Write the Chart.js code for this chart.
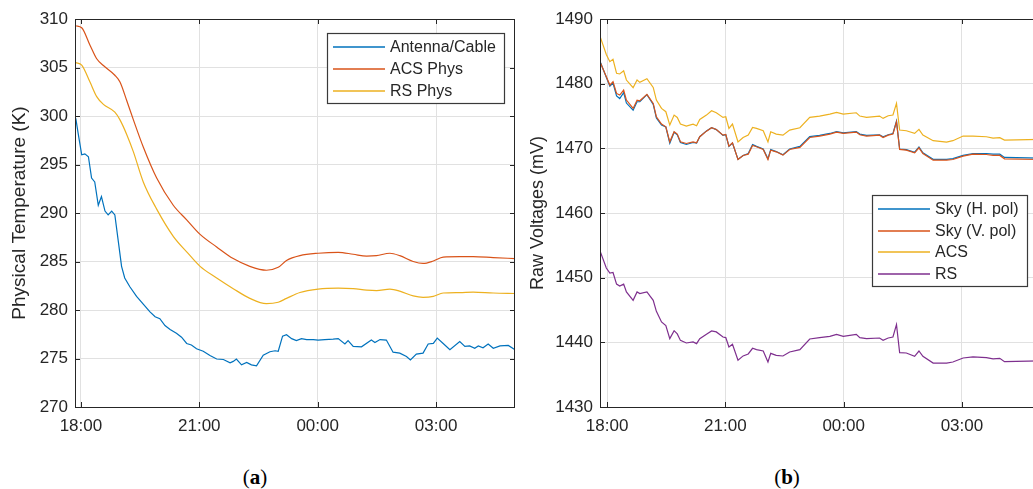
<!DOCTYPE html>
<html>
<head>
<meta charset="utf-8">
<script src="https://cdn.jsdelivr.net/npm/chart.js@4"></script>
<style>
  body { margin: 0; background: #fff; overflow: hidden; width: 1033px; height: 489px; position: relative; }
  canvas { position: absolute; top: 0; }
  #left { left: 0; }
  #right { left: 520px; }
  .tag { position: absolute; top: 464px; width: 100px; text-align: center; font: 21px "Liberation Serif", "DejaVu Serif", serif; line-height: 26px; color: #000; }
</style>
</head>
<body>
<canvas id="left" width="520" height="440"></canvas>
<canvas id="right" width="520" height="440"></canvas>
<div class="tag" style="left:205px">(<b>a</b>)</div>
<div class="tag" style="left:737px">(<b>b</b>)</div>
<script>
// time axis in hours (24 = midnight)
var hourTicks = [18, 21, 24, 27];

// (a) physical temperatures
var timesAnt = [
  17.87, 17.93, 18.02, 18.10, 18.19, 18.27, 18.35, 18.44, 18.52, 18.61,
  18.69, 18.78, 18.86, 18.95, 19.03, 19.11, 19.24, 19.41, 19.58, 19.75,
  19.88, 20.00, 20.13, 20.26, 20.42, 20.55, 20.68, 20.80, 20.93, 21.10,
  21.27, 21.44, 21.61, 21.78, 21.86, 21.94, 22.07, 22.20, 22.32, 22.45,
  22.62, 22.79, 22.92, 23.00, 23.11, 23.21, 23.34, 23.46, 23.59, 23.72,
  23.89, 24.01, 24.18, 24.39, 24.52, 24.69, 24.77, 24.90, 25.11, 25.36,
  25.45, 25.58, 25.74, 25.91, 26.08, 26.25, 26.35, 26.50, 26.67, 26.80,
  26.93, 27.03, 27.18, 27.35, 27.60, 27.73, 27.85, 27.98, 28.07, 28.19,
  28.32, 28.45, 28.62, 28.83, 29.00];
var antenna = [
  299.75, 298.2, 296.0, 296.1, 295.8, 293.6, 293.2, 290.8, 291.7, 290.2,
  289.8, 290.2, 289.8, 287.0, 284.5, 283.3, 282.4, 281.4, 280.6, 279.8,
  279.3, 279.1, 278.4, 278.0, 277.6, 277.2, 276.55, 276.4, 276.0, 275.75,
  275.3, 274.95, 274.9, 274.55, 274.7, 274.95, 274.35, 274.6, 274.35, 274.25,
  275.35, 275.7, 275.8, 275.75, 277.3, 277.45, 277.05, 276.85, 277.05, 276.95,
  276.95, 276.9, 276.95, 277.0, 277.05, 276.5, 276.85, 276.25, 276.2, 276.9,
  276.65, 276.95, 276.9, 275.65, 275.55, 275.2, 274.85, 275.45, 275.55, 276.5,
  276.55, 277.1, 276.55, 275.9, 276.75, 276.25, 276.3, 276.05, 276.3, 276.1,
  276.5, 276.05, 276.3, 276.35, 275.9];

var timesPhys = [
  17.87, 18.02, 18.23, 18.40, 18.57, 18.86, 18.99, 19.16, 19.33, 19.58,
  19.92, 20.34, 20.68, 21.02, 21.44, 21.86, 22.28, 22.70, 23.00, 23.21,
  23.55, 24.01, 24.52, 24.90, 25.24, 25.49, 25.83, 26.08, 26.42, 26.67,
  26.93, 27.18, 27.60, 27.94, 28.45, 29.00];
var acsPhys = [
  309.3, 309.1, 307.3, 305.9, 305.2, 304.2, 303.5, 301.6, 299.6, 296.8,
  293.6, 290.8, 289.3, 287.8, 286.5, 285.3, 284.5, 284.1, 284.4, 285.1,
  285.6, 285.85, 285.95, 285.75, 285.55, 285.6, 285.85, 285.6, 285.0, 284.8,
  285.05, 285.45, 285.5, 285.5, 285.4, 285.3];
var rsPhys = [
  305.5, 305.25, 303.5, 302.0, 301.2, 300.4, 299.6, 298.1, 296.3, 293.2,
  290.4, 287.6, 286.0, 284.5, 283.3, 282.2, 281.2, 280.65, 280.8, 281.2,
  281.8, 282.15, 282.25, 282.2, 282.05, 282.0, 282.15, 281.95, 281.45, 281.3,
  281.4, 281.75, 281.8, 281.85, 281.75, 281.7];

// (b) raw voltages
var timesRaw = [
  17.83, 17.98, 18.07, 18.15, 18.24, 18.32, 18.42, 18.49, 18.66, 18.76,
  18.83, 19.01, 19.17, 19.25, 19.38, 19.49, 19.59, 19.70, 19.78, 19.86,
  20.01, 20.18, 20.27, 20.35, 20.52, 20.65, 20.77, 20.94, 21.01, 21.09,
  21.18, 21.32, 21.45, 21.58, 21.69, 21.79, 21.96, 22.08, 22.15, 22.29,
  22.46, 22.63, 22.89, 23.14, 23.39, 23.65, 23.82, 23.99, 24.32, 24.41,
  24.58, 24.91, 25.00, 25.13, 25.25, 25.34, 25.42, 25.59, 25.80, 25.91,
  26.01, 26.27, 26.61, 26.77, 27.03, 27.28, 27.62, 27.79, 27.96, 28.08,
  28.98];
var skyH = [
  1483.3, 1481.0, 1479.6, 1480.1, 1478.1, 1477.7, 1478.6, 1477.0, 1475.9, 1477.2,
  1477.2, 1478.3, 1476.8, 1474.7, 1473.6, 1473.3, 1470.8, 1472.5, 1472.1, 1470.9,
  1470.6, 1470.9, 1470.8, 1471.8, 1472.7, 1473.2, 1472.9, 1472.0, 1472.1, 1470.3,
  1470.8, 1468.3, 1468.9, 1469.2, 1470.6, 1470.3, 1469.9, 1468.4, 1469.8, 1469.5,
  1469.0, 1469.9, 1470.3, 1471.8, 1472.0, 1472.3, 1472.6, 1472.4, 1472.6, 1472.2,
  1472.0, 1472.1, 1471.8, 1472.1, 1472.3, 1474.2, 1469.9, 1469.8, 1469.4, 1470.2,
  1469.3, 1468.3, 1468.3, 1468.4, 1468.9, 1469.2, 1469.2, 1469.1, 1469.1, 1468.6,
  1468.5];
var skyV = [
  1483.24, 1481.07, 1479.78, 1480.30, 1478.49, 1478.24, 1479.01, 1477.46, 1476.17, 1477.46,
  1477.36, 1478.34, 1476.95, 1474.88, 1473.75, 1473.33, 1471.01, 1472.56, 1472.20, 1471.01,
  1470.75, 1471.01, 1470.86, 1471.79, 1472.66, 1473.18, 1472.92, 1472.04, 1472.15, 1470.34,
  1470.86, 1468.28, 1468.90, 1469.10, 1470.44, 1470.24, 1469.82, 1468.28, 1469.72, 1469.46,
  1468.95, 1469.82, 1470.15, 1471.68, 1471.89, 1472.20, 1472.51, 1472.30, 1472.51, 1472.10,
  1471.89, 1472.04, 1471.68, 1472.04, 1472.20, 1474.11, 1469.83, 1469.72, 1469.31, 1470.08,
  1469.20, 1468.17, 1468.17, 1468.27, 1468.79, 1469.10, 1469.05, 1468.90, 1468.90, 1468.38,
  1468.27];
var acsRaw = [
  1487.16, 1484.5, 1483.4, 1483.76, 1481.6, 1481.5, 1482.0, 1480.56, 1479.37, 1480.56,
  1480.2, 1480.76, 1479.42, 1477.46, 1476.17, 1475.66, 1473.6, 1475.14, 1474.78, 1473.75,
  1473.44, 1473.75, 1473.49, 1474.47, 1475.14, 1475.81, 1475.5, 1474.78, 1474.88, 1473.08,
  1473.75, 1471.0, 1471.68, 1472.04, 1473.23, 1473.08, 1472.71, 1471.0, 1472.56, 1472.2,
  1472.04, 1472.82, 1473.18, 1474.78, 1474.99, 1475.3, 1475.56, 1475.3, 1475.5, 1474.99,
  1474.78, 1474.99, 1474.63, 1475.04, 1475.15, 1476.95, 1472.83, 1472.72, 1472.31, 1472.93,
  1472.05, 1471.18, 1470.97, 1471.18, 1471.90, 1471.90, 1471.79, 1471.59, 1471.64, 1471.28,
  1471.38];
var rsRaw = [
  1453.98, 1451.5, 1450.7, 1450.8, 1449.0, 1448.7, 1449.0, 1447.79, 1446.5, 1447.79,
  1447.54, 1447.79, 1446.5, 1444.8, 1443.15, 1442.6, 1440.57, 1441.8, 1441.3, 1440.3,
  1439.9, 1440.06, 1439.8, 1440.57, 1441.24, 1441.76, 1441.61, 1440.83, 1440.73, 1439.28,
  1439.7, 1437.22, 1437.9, 1438.2, 1439.08, 1438.87, 1438.66, 1436.96, 1438.3, 1437.99,
  1437.89, 1438.51, 1438.86, 1440.52, 1440.72, 1440.93, 1441.24, 1440.93, 1441.24, 1440.72,
  1440.57, 1440.67, 1440.31, 1440.67, 1440.83, 1442.74, 1438.40, 1438.35, 1437.84, 1438.66,
  1437.84, 1436.80, 1436.80, 1436.96, 1437.58, 1437.74, 1437.63, 1437.43, 1437.53, 1437.01,
  1437.12];

var ink = '#262626';
var gridColor = '#e1e1e1';
var sans = '"Liberation Sans", Arial, Helvetica, sans-serif';

function pts(xs, ys) {
  return ys.map(function (v, i) { return { x: xs[i], y: v }; });
}

function line(label, xs, ys, color, i, smooth) {
  return {
    label: label, data: pts(xs, ys), borderColor: color, backgroundColor: color,
    borderWidth: 1.2, pointRadius: 0, fill: false, order: -i,
    tension: smooth ? 0.4 : 0,
    cubicInterpolationMode: smooth ? 'monotone' : 'default'
  };
}

// box around the axes with inward tick marks, like the original plot
var frame = {
  id: 'frame',
  afterDatasetsDraw: function (chart) {
    var ctx = chart.ctx, a = chart.chartArea, x = chart.scales.x, y = chart.scales.y;
    ctx.save();
    ctx.strokeStyle = ink;
    ctx.lineWidth = 1;
    ctx.beginPath();
    ctx.rect(a.left + 0.5, a.top + 0.5, a.right - a.left - 1, a.bottom - a.top);
    x.ticks.forEach(function (t) {
      var px = Math.round(x.getPixelForValue(t.value)) + 0.5;
      ctx.moveTo(px, a.bottom); ctx.lineTo(px, a.bottom - 5);
      ctx.moveTo(px, a.top); ctx.lineTo(px, a.top + 5);
    });
    y.ticks.forEach(function (t) {
      var py = Math.round(y.getPixelForValue(t.value)) + 0.5;
      ctx.moveTo(a.left, py); ctx.lineTo(a.left + 5, py);
      ctx.moveTo(a.right, py); ctx.lineTo(a.right - 5, py);
    });
    ctx.stroke();
    ctx.restore();
  }
};

// legend box placed inside the axes
var boxLegend = {
  id: 'boxLegend',
  afterDraw: function (chart, args, opts) {
    var ctx = chart.ctx, sets = chart.data.datasets;
    ctx.save();
    ctx.font = '16px ' + sans;
    var tw = Math.max.apply(null, sets.map(function (d) { return ctx.measureText(d.label).width; }));
    var w = Math.round(6 + 52 + 5 + tw + 8);
    var h = Math.round(14 + (sets.length - 1) * opts.rowH + 12);
    ctx.fillStyle = '#fff';
    ctx.fillRect(opts.x, opts.y, w, h);
    ctx.strokeStyle = '#3a3a3a';
    ctx.lineWidth = 1.2;
    ctx.strokeRect(opts.x + 0.5, opts.y + 0.5, w, h);
    sets.forEach(function (d, i) {
      var cy = Math.round(opts.y + 14 + i * opts.rowH);
      ctx.strokeStyle = d.borderColor;
      ctx.lineWidth = 1.6;
      ctx.beginPath();
      ctx.moveTo(opts.x + 6, cy);
      ctx.lineTo(opts.x + 58, cy);
      ctx.stroke();
      ctx.fillStyle = ink;
      ctx.textBaseline = 'middle';
      ctx.fillText(d.label, opts.x + 63, cy + 1);
    });
    ctx.restore();
  }
};

function options(cfg) {
  return {
    responsive: false,
    animation: false,
    layout: { padding: { top: 19, right: cfg.padRight, left: 0, bottom: 0 } },
    plugins: {
      legend: { display: false },
      tooltip: { enabled: false },
      boxLegend: cfg.legend
    },
    scales: {
      x: {
        type: 'linear', min: cfg.xMin, max: cfg.xMax,
        afterBuildTicks: function (s) { s.ticks = hourTicks.map(function (v) { return { value: v }; }); },
        afterFit: function (s) { s.height = 33; },
        grid: { color: gridColor, drawTicks: false },
        border: { display: false },
        ticks: {
          autoSkip: false, maxRotation: 0, padding: 9, color: ink,
          font: { family: sans, size: 17 },
          callback: function (v) { return String(Math.round(v) % 24).padStart(2, '0') + ':00'; }
        }
      },
      y: {
        min: cfg.yMin, max: cfg.yMax,
        afterFit: function (s) { s.width = cfg.yWidth; },
        grid: { color: gridColor, drawTicks: false },
        border: { display: false },
        ticks: {
          stepSize: cfg.yStep, padding: 7, color: ink, font: { family: sans, size: 17 },
          callback: function (v) { return String(v); }
        },
        title: {
          display: true, text: cfg.yTitle, color: ink,
          font: { family: sans, size: cfg.titleSize },
          padding: { top: cfg.titlePad, bottom: 0 }
        }
      }
    }
  };
}

new Chart('left', {
  type: 'line',
  data: {
    datasets: [
      line('Antenna/Cable', timesAnt, antenna, '#0072BD', 0, false),
      line('ACS Phys', timesPhys, acsPhys, '#D95319', 1, true),
      line('RS Phys', timesPhys, rsPhys, '#EDB120', 2, true)
    ]
  },
  options: options({
    xMin: 17.85, xMax: 29.0, yMin: 270, yMax: 310, yStep: 5, yWidth: 75, padRight: 5,
    yTitle: 'Physical Temperature (K)', titleSize: 19, titlePad: 8,
    legend: { x: 327, y: 33, rowH: 22 }
  }),
  plugins: [frame, boxLegend]
});

new Chart('right', {
  type: 'line',
  data: {
    datasets: [
      line('Sky (H. pol)', timesRaw, skyH, '#0072BD', 0, false),
      line('Sky (V. pol)', timesRaw, skyV, '#D95319', 1, false),
      line('ACS', timesRaw, acsRaw, '#EDB120', 2, false),
      line('RS', timesRaw, rsRaw, '#7E2F8E', 3, false)
    ]
  },
  options: options({
    xMin: 17.82, xMax: 28.98, yMin: 1430, yMax: 1490, yStep: 10, yWidth: 80, padRight: 0,
    yTitle: 'Raw Voltages (mV)', titleSize: 18, titlePad: 7,
    legend: { x: 352, y: 195, rowH: 21.5 }
  }),
  plugins: [frame, boxLegend]
});
</script>
</body>
</html>
